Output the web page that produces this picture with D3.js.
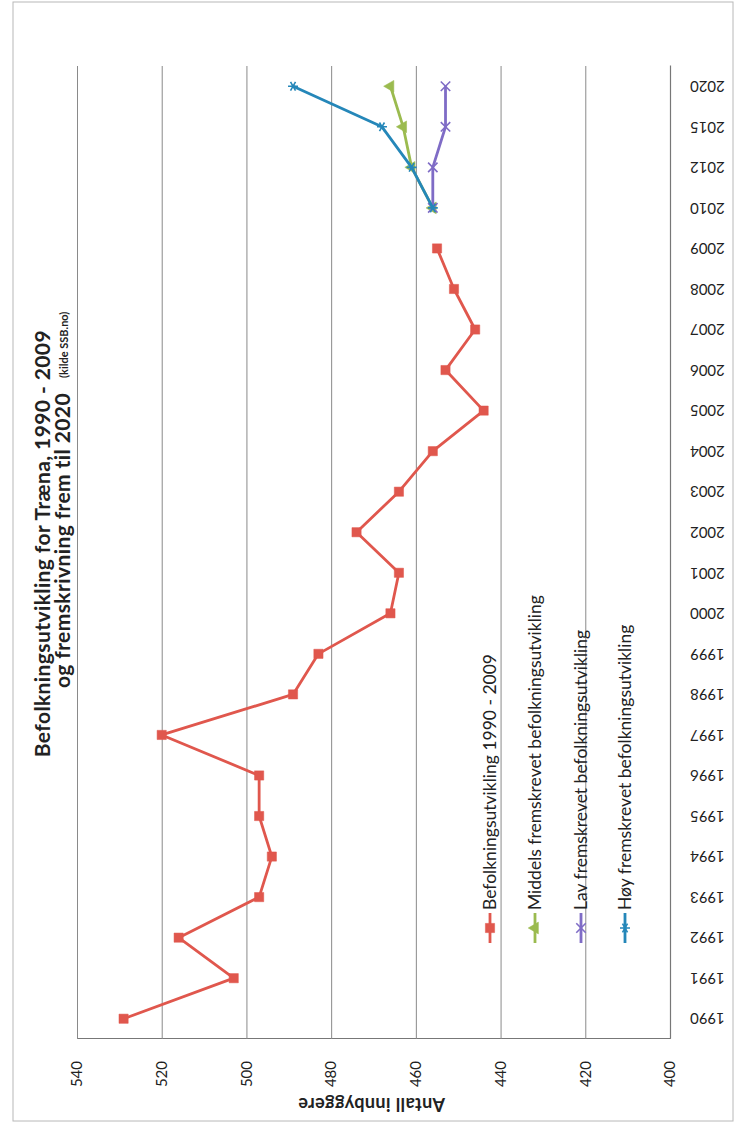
<!DOCTYPE html>
<html>
<head>
<meta charset="utf-8">
<script src="https://cdn.jsdelivr.net/npm/d3@7"></script>
<style>
  html, body { margin: 0; padding: 0; background: #fff; }
  svg { display: block; }
  text { font-family: Lato, "Open Sans", sans-serif; fill: #222; }
</style>
</head>
<body>
<svg id="chart" width="736" height="1137"></svg>
<script>
// Population of Træna 1990-2009 and projections to 2020
const years = ["1990","1991","1992","1993","1994","1995","1996","1997","1998","1999",
               "2000","2001","2002","2003","2004","2005","2006","2007","2008","2009",
               "2010","2012","2015","2020"];
const befolkning = [529,503,516,497,494,497,497,520,489,483,
                    466,464,474,464,456,444,453,446,451,455,
                    null,null,null,null];
const middels = Array(20).fill(null).concat([456,461,463,466]);
const lav     = Array(20).fill(null).concat([456,456,453,453]);
const hoy     = Array(20).fill(null).concat([456,461,468,489]);
const valueTicks = [400,420,440,460,480,500,520,540];

const seriesNames = ["Befolkningsutvikling  1990 - 2009",
                     "Middels fremskrevet befolkningsutvikling",
                     "Lav fremskrevet befolkningsutvikling",
                     "Høy fremskrevet befolkningsutvikling"];

const series = [
  {name: seriesNames[0], values: befolkning, color: "#e0574d", symbol: d3.symbolSquare, fill: true, size: 85},
  {name: seriesNames[1], values: middels, color: "#9bbb4f", symbol: d3.symbolTriangle, fill: true, size: 60},
  {name: seriesNames[2], values: lav, color: "#7f6cc6", symbol: d3.symbolTimes, fill: false, size: 60},
  {name: seriesNames[3], values: hoy, color: "#2587b9", symbol: d3.symbolAsterisk, fill: false, size: 70}
];

const svg = d3.select("#chart");
const PAGE_H = 1137;

// light frame around the page
svg.append("rect")
  .attr("x", 13).attr("y", 2).attr("width", 720).attr("height", 1119)
  .attr("fill", "none").attr("stroke", "#b8b8b8").attr("stroke-width", 1);

// The chart is laid out landscape and turned a quarter turn counter-clockwise
const g = svg.append("g").attr("transform", `translate(0,${PAGE_H}) rotate(-90)`);

const plot = {left: 98, right: 1071, top: 77, bottom: 670};

const x = d3.scaleBand().domain(years).range([plot.left, plot.right]);
const y = d3.scaleLinear().domain([400, 540]).range([plot.bottom, plot.top]);

// value axis with gridlines
const yAxis = g.append("g")
  .attr("transform", `translate(${plot.left},0)`)
  .call(d3.axisLeft(y).tickValues(valueTicks)
        .tickSizeInner(-(plot.right - plot.left)).tickSizeOuter(0).tickPadding(22));
yAxis.select(".domain").attr("stroke", "#777").attr("stroke-width", 1.2);
yAxis.selectAll(".tick line").attr("stroke", "#8a8a8a").attr("stroke-width", 1);
yAxis.selectAll(".tick text").style("font-size", "15px").style("font-family", "Lato, sans-serif").attr("fill", "#222");

// category axis
const xAxis = g.append("g")
  .attr("transform", `translate(0,${plot.bottom})`)
  .call(d3.axisBottom(x).tickSize(0).tickSizeOuter(0));
xAxis.select(".domain").attr("stroke", "#777").attr("stroke-width", 1.2);
xAxis.selectAll(".tick text")
  .attr("transform", "rotate(-90)")
  .attr("x", -20).attr("y", 0).attr("dy", "0.35em")
  .attr("text-anchor", "end")
  .style("font-size", "15px").style("font-family", "Lato, sans-serif").attr("fill", "#222");

// axis title
g.append("text")
  .attr("transform", `translate(33,${(plot.top + plot.bottom) / 2 - 2}) rotate(-90)`)
  .attr("text-anchor", "middle").attr("dy", "0.35em")
  .style("font-size", "18px").style("font-weight", "bold").style("letter-spacing", "0.4px")
  .text("Antall innbyggere");

// lines and markers
const line = d3.line()
  .defined(d => d.v !== null)
  .x(d => x(d.year) + x.bandwidth() / 2)
  .y(d => y(d.v));

series.forEach(s => {
  const pts = years.map((yr, i) => ({year: yr, v: s.values[i]}));
  g.append("path")
    .datum(pts)
    .attr("d", line)
    .attr("fill", "none")
    .attr("stroke", s.color)
    .attr("stroke-width", 2.8)
    .attr("stroke-linejoin", "round");
  g.selectAll(null)
    .data(pts.filter(d => d.v !== null))
    .join("path")
    .attr("transform", d => `translate(${x(d.year) + x.bandwidth() / 2},${y(d.v)})`)
    .attr("d", d3.symbol().type(s.symbol).size(s.size))
    .attr("fill", s.fill ? s.color : "none")
    .attr("stroke", s.color)
    .attr("stroke-width", s.fill ? 0.5 : 1.6);
});

// legend
const legendRows = [490, 535, 581, 625];
const legend = g.append("g");
series.forEach((s, i) => {
  const row = legend.append("g").attr("transform", `translate(0,${legendRows[i]})`);
  row.append("line")
    .attr("x1", 194).attr("x2", 224).attr("y1", 0).attr("y2", 0)
    .attr("stroke", s.color).attr("stroke-width", 2.8);
  row.append("path")
    .attr("transform", "translate(209,0)")
    .attr("d", d3.symbol().type(s.symbol).size(s.size))
    .attr("fill", s.fill ? s.color : "none")
    .attr("stroke", s.color)
    .attr("stroke-width", s.fill ? 0.5 : 1.6);
  row.append("text")
    .attr("x", 227).attr("y", 0).attr("dy", "0.35em")
    .style("font-size", "17.5px")
    .text(s.name);
});

// chart title
g.append("text")
  .attr("x", 807).attr("y", 43).attr("dy", "0.35em")
  .attr("text-anchor", "end")
  .style("font-size", "21px").style("font-weight", "bold").style("letter-spacing", "0.4px")
  .text("Befolkningsutvikling for Træna, 1990 - 2009");
g.append("text")
  .attr("x", 744).attr("y", 63).attr("dy", "0.35em")
  .attr("text-anchor", "end")
  .style("font-size", "21px").style("font-weight", "bold").style("letter-spacing", "0.4px")
  .text("og fremskrivning frem til 2020");
g.append("text")
  .attr("x", 759).attr("y", 64).attr("dy", "0.35em")
  .style("font-size", "11px").style("font-weight", "bold")
  .text("(kilde SSB.no)");
</script>
</body>
</html>
